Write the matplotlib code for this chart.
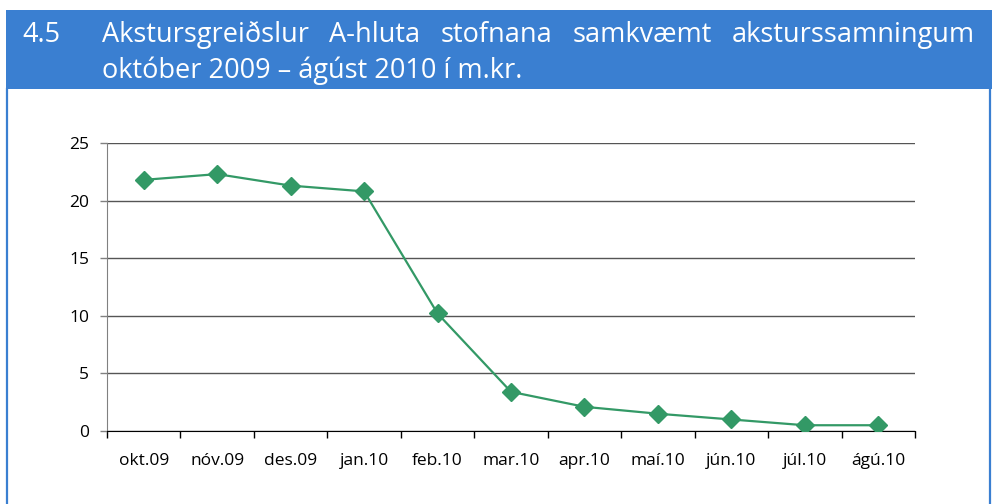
import matplotlib
import matplotlib.pyplot as plt
from matplotlib.patches import Rectangle
from matplotlib.lines import Line2D

matplotlib.use('Agg')

months = ['okt.09', 'nóv.09', 'des.09', 'jan.10', 'feb.10', 'mar.10',
          'apr.10', 'maí.10', 'jún.10', 'júl.10', 'ágú.10']
payments = [21.8, 22.3, 21.3, 20.8, 10.2, 3.4, 2.1, 1.5, 1.0, 0.5, 0.5]
yticks = [0, 5, 10, 15, 20, 25]

title_num = '4.5'
title_line1 = ['Akstursgreiðslur', 'A-hluta', 'stofnana', 'samkvæmt', 'aksturssamningum']
title_line2 = 'október 2009 – ágúst 2010 í m.kr.'

W, H = 992, 504
BLUE = '#3a7fd1'
GREEN = '#339966'
FONT = ['Open Sans', 'DejaVu Sans']

plt.rcParams['font.family'] = FONT

fig = plt.figure(figsize=(W / 100, H / 100), dpi=100)


def fx(px):
    return px / W


def fy(py):
    return 1 - py / H


# header band and frame
fig.patches.append(Rectangle((fx(6), fy(89)), fx(986), fy(10) - fy(89),
                             transform=fig.transFigure, facecolor=BLUE, edgecolor='none'))
fig.lines.append(Line2D([fx(7), fx(7)], [fy(89), 0], transform=fig.transFigure, color=BLUE, lw=1.6))
fig.lines.append(Line2D([fx(990), fx(990)], [fy(89), 0], transform=fig.transFigure, color=BLUE, lw=1.6))

title_size = 19.5
fig.text(fx(22), fy(42), title_num, color='white', fontsize=title_size, va='baseline')

# justify first line between x=102 and x=975
renderer = fig.canvas.get_renderer()
words = [fig.text(0, fy(42), w, color='white', fontsize=title_size, va='baseline') for w in title_line1]
widths = [t.get_window_extent(renderer).width for t in words]
gap = (975 - 102 - sum(widths)) / (len(words) - 1)
x = 102
for t, w in zip(words, widths):
    t.set_x(fx(x))
    x += w + gap

fig.text(fx(102), fy(78), title_line2, color='white', fontsize=title_size, va='baseline')

# chart
ax = fig.add_axes([fx(107), fy(431), fx(915) - fx(107), fy(143) - fy(431)])
xs = [i + 0.5 for i in range(len(months))]
ax.plot(xs, payments, color=GREEN, lw=1.6, marker='D', markersize=9.5,
        markerfacecolor=GREEN, markeredgecolor=GREEN, zorder=3)

ax.set_xlim(0, len(months))
ax.set_ylim(0, 25)
ax.set_yticks(yticks)
ax.set_xticks(range(len(months) + 1))
ax.set_xticklabels([])
ax.set_xticks(xs, minor=True)
ax.set_xticklabels(months, minor=True)
ax.tick_params(axis='x', which='minor', length=0, pad=16, labelsize=12.5, colors='#000000')
ax.tick_params(axis='x', which='major', length=5, width=1, color='#000000', direction='out')
ax.tick_params(axis='y', length=5, width=1, color='#808080', labelsize=12.5, pad=8, labelcolor='#000000')

ax.grid(axis='y', color='#555555', lw=1)
ax.set_axisbelow(True)
for side in ['top', 'right']:
    ax.spines[side].set_visible(False)
ax.spines['left'].set_color('#808080')
ax.spines['bottom'].set_color('#000000')
ax.spines['bottom'].set_zorder(2.5)

fig.savefig('out.png', dpi=100)
